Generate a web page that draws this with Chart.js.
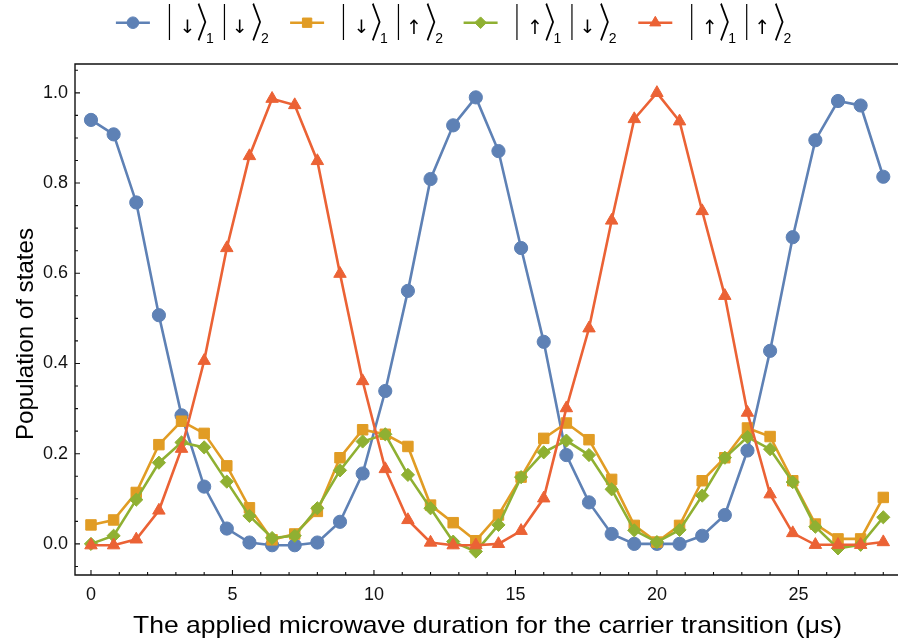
<!DOCTYPE html>
<html>
<head>
<meta charset="utf-8">
<script src="https://cdn.jsdelivr.net/npm/chart.js@4.4.0/dist/chart.umd.min.js"></script>
<style>
  html, body { margin: 0; padding: 0; background: #fff; }
  #wrap { width: 898px; height: 643px; }
</style>
</head>
<body>
<div id="wrap"><canvas id="pop" width="898" height="643"></canvas></div>
<script>
// ── DATA ──
const TIMES = [0, 0.8, 1.6, 2.4, 3.2, 4.0, 4.8, 5.6, 6.4, 7.2, 8.0, 8.8, 9.6, 10.4, 11.2, 12.0, 12.8, 13.6,
               14.4, 15.2, 16.0, 16.8, 17.6, 18.4, 19.2, 20.0, 20.8, 21.6, 22.4, 23.2, 24.0, 24.8, 25.6, 26.4, 27.2, 28.0];

const POP_DD = [0.940, 0.908, 0.757, 0.507, 0.285, 0.127, 0.034, 0.003, -0.003, -0.003, 0.003, 0.049, 0.156, 0.339, 0.561, 0.809, 0.928, 0.990,
                0.871, 0.656, 0.448, 0.197, 0.092, 0.022, 0.000, 0.000, 0.000, 0.018, 0.064, 0.207, 0.428, 0.680, 0.895, 0.982, 0.972, 0.814];
const POP_DU = [0.042, 0.053, 0.114, 0.220, 0.272, 0.245, 0.173, 0.080, 0.009, 0.022, 0.072, 0.191, 0.253, 0.243, 0.216, 0.086, 0.047, 0.007,
                0.064, 0.148, 0.234, 0.268, 0.231, 0.143, 0.041, 0.004, 0.041, 0.140, 0.191, 0.257, 0.238, 0.140, 0.044, 0.011, 0.011, 0.103];
const POP_UD = [0.000, 0.018, 0.098, 0.180, 0.225, 0.214, 0.138, 0.062, 0.013, 0.018, 0.079, 0.163, 0.227, 0.243, 0.153, 0.079, 0.005, -0.017,
                0.042, 0.148, 0.203, 0.229, 0.197, 0.121, 0.030, 0.004, 0.031, 0.107, 0.191, 0.237, 0.210, 0.137, 0.038, -0.010, -0.002, 0.059];
const POP_UU = [-0.003, -0.003, 0.010, 0.074, 0.211, 0.406, 0.656, 0.860, 0.987, 0.973, 0.849, 0.599, 0.361, 0.166, 0.053, 0.003, -0.003, -0.003,
                0.000, 0.029, 0.101, 0.301, 0.478, 0.717, 0.942, 1.000, 0.937, 0.738, 0.550, 0.291, 0.110, 0.024, -0.002, -0.002, -0.002, 0.004];

// ket labels: [spin 1, spin 2]
const STATES  = [['↓', '↓'], ['↓', '↑'], ['↑', '↓'], ['↑', '↑']];
const X_TICKS = [0, 5, 10, 15, 20, 25];
const Y_TICKS = [0, 0.2, 0.4, 0.6, 0.8, 1.0];
const X_TITLE = 'The applied microwave duration for the carrier transition (μs)';
const Y_TITLE = 'Population of states';

// ── STYLE ──
const SANS   = "'Liberation Sans', Arial, sans-serif";
const SYM    = "'DejaVu Sans', sans-serif";
const CJK    = "'Noto Sans CJK JP', 'DejaVu Sans', sans-serif";
const COLORS = ['#5E81B5', '#E19C24', '#8FB032', '#EB6235'];
const SHAPES = [
  { style: 'circle',   r: 6.6 },
  { style: 'rect',     r: 7.4 },
  { style: 'rectRot',  r: 6.6 },
  { style: 'triangle', r: 7.2 }
];
const SERIES = [POP_DD, POP_DU, POP_UD, POP_UU];

// ── HELPERS ──
// draw one glyph with its ink box centred on (cx, cy); the font size is picked so the ink is
// w wide, then the glyph is stretched vertically to h (either may be null)
function glyph(ctx, txt, family, size, cx, cy, w, h) {
  ctx.save();
  ctx.textAlign = 'left';
  ctx.textBaseline = 'alphabetic';
  ctx.font = size + 'px ' + family;
  let m = ctx.measureText(txt);
  if (w) {
    const gw = m.actualBoundingBoxRight + m.actualBoundingBoxLeft;
    size = size * w / gw;
    ctx.font = size.toFixed(2) + 'px ' + family;
    m = ctx.measureText(txt);
  }
  const gh = m.actualBoundingBoxAscent + m.actualBoundingBoxDescent;
  const sy = h ? h / gh : 1;
  ctx.translate(cx, cy);
  ctx.scale(1, sy);
  ctx.fillText(txt, -(m.actualBoundingBoxRight - m.actualBoundingBoxLeft) / 2,
                    (m.actualBoundingBoxAscent - m.actualBoundingBoxDescent) / 2);
  ctx.restore();
}

function marker(ctx, i, x, y, r) {
  ctx.save();
  ctx.fillStyle = COLORS[i];
  ctx.strokeStyle = COLORS[i];
  ctx.lineWidth = 1;
  Chart.helpers.drawPoint(ctx, { pointStyle: SHAPES[i].style, radius: r, rotation: 0, borderWidth: 1 }, x, y);
  ctx.restore();
}

// ── FRAME + INSIDE TICKS + TEXT ──
const framePlugin = {
  id: 'frame',
  beforeDatasetsDraw(chart) {
    const { ctx, chartArea: a, scales: { x, y } } = chart;
    ctx.save();
    ctx.strokeStyle = '#111';
    ctx.lineWidth = 1.4;
    ctx.beginPath();
    ctx.moveTo(a.right, a.top);
    ctx.lineTo(a.left, a.top);
    ctx.lineTo(a.left, a.bottom);
    ctx.lineTo(a.right, a.bottom);
    ctx.stroke();

    ctx.lineWidth = 1.1;
    ctx.beginPath();
    for (let v = 0; v <= 28; v++) {
      const px = x.getPixelForValue(v);
      const len = X_TICKS.includes(v) ? 5 : 3;
      ctx.moveTo(px, a.bottom);
      ctx.lineTo(px, a.bottom - len);
    }
    for (let k = -1; k <= 21; k++) {
      const py = y.getPixelForValue(k * 0.05);
      if (py < a.top || py > a.bottom) continue;
      const len = k % 4 === 0 ? 5 : 3;
      ctx.moveTo(a.left, py);
      ctx.lineTo(a.left + len, py);
    }
    ctx.stroke();
    ctx.restore();
  },

  afterDraw(chart) {
    const { ctx } = chart;
    ctx.save();
    ctx.fillStyle = '#000';

    // axis titles, fitted to their printed length
    ctx.font = '24px ' + SANS;
    ctx.textAlign = 'center';
    ctx.textBaseline = 'alphabetic';
    const xw = ctx.measureText(X_TITLE).width;
    ctx.save();
    ctx.translate(487.5, 633);
    ctx.scale(709 / xw, 1);
    ctx.fillText(X_TITLE, 0, 0);
    ctx.restore();

    const yw = ctx.measureText(Y_TITLE).width;
    ctx.save();
    ctx.translate(33, 334);
    ctx.rotate(-Math.PI / 2);
    ctx.scale(212 / yw, 1);
    ctx.fillText(Y_TITLE, 0, 0);
    ctx.restore();

    // legend row: line + marker, then the two-spin ket
    const centers = [132.9, 307.1, 480.6, 655.3];
    const ly = 22.7;
    STATES.forEach((st, i) => {
      const cx = centers[i];
      ctx.strokeStyle = COLORS[i];
      ctx.lineWidth = 2.4;
      ctx.beginPath();
      ctx.moveTo(cx - 17, ly);
      ctx.lineTo(cx + 17, ly);
      ctx.stroke();
      marker(ctx, i, cx, ly, SHAPES[i].r - 0.8);

      ctx.fillStyle = '#000';
      glyph(ctx, '|', SANS, 15, cx + 36.5, 21.7, null, 37);
      glyph(ctx, st[0], SYM, 18, cx + 54, 26.5, 9.5, 14.5);
      glyph(ctx, '〉', CJK, 20, cx + 69.2, 23, 9.5, 39.4);
      glyph(ctx, '1', SANS, 14, cx + 77.5, 38, null, null);
      glyph(ctx, '|', SANS, 15, cx + 91.5, 21.7, null, 37);
      glyph(ctx, st[1], SYM, 18, cx + 106.4, 26.5, 9.5, 14.5);
      glyph(ctx, '〉', CJK, 20, cx + 123.9, 23, 9.5, 39.4);
      glyph(ctx, '2', SANS, 14, cx + 132.2, 38, null, null);
    });
    ctx.restore();
  }
};

// ── CHART ──
const datasets = SERIES.map((vals, i) => ({
  label: STATES[i].join(''),
  data: TIMES.map((t, k) => ({ x: t, y: vals[k] })),
  borderColor: COLORS[i],
  backgroundColor: COLORS[i],
  borderWidth: 2.6,
  tension: 0,
  pointStyle: SHAPES[i].style,
  pointRadius: SHAPES[i].r,
  pointBorderWidth: 1,
  pointBorderColor: COLORS[i],
  pointBackgroundColor: COLORS[i],
  order: 4 - i,
  clip: false
}));

new Chart(document.getElementById('pop'), {
  type: 'line',
  data: { datasets },
  options: {
    responsive: false,
    animation: false,
    events: [],
    layout: { autoPadding: false, padding: { top: 64, left: 0, right: 0, bottom: 0 } },
    plugins: { legend: { display: false }, tooltip: { enabled: false } },
    scales: {
      x: {
        type: 'linear',
        min: -0.565,
        max: 28.52,
        border: { display: false },
        grid: { display: false, drawTicks: false },
        ticks: { padding: 9, color: '#111', font: { family: SANS, size: 18 }, maxRotation: 0 },
        afterBuildTicks: s => { s.ticks = X_TICKS.map(v => ({ value: v })); },
        afterFit: s => { s.height = 68; }
      },
      y: {
        type: 'linear',
        min: -0.069,
        max: 1.064,
        border: { display: false },
        grid: { display: false, drawTicks: false },
        ticks: { padding: 7, color: '#111', font: { family: SANS, size: 18 }, callback: v => v.toFixed(1) },
        afterBuildTicks: s => { s.ticks = Y_TICKS.map(v => ({ value: v })); },
        afterFit: s => { s.width = 75; }
      }
    }
  },
  plugins: [framePlugin]
});
</script>
</body>
</html>
